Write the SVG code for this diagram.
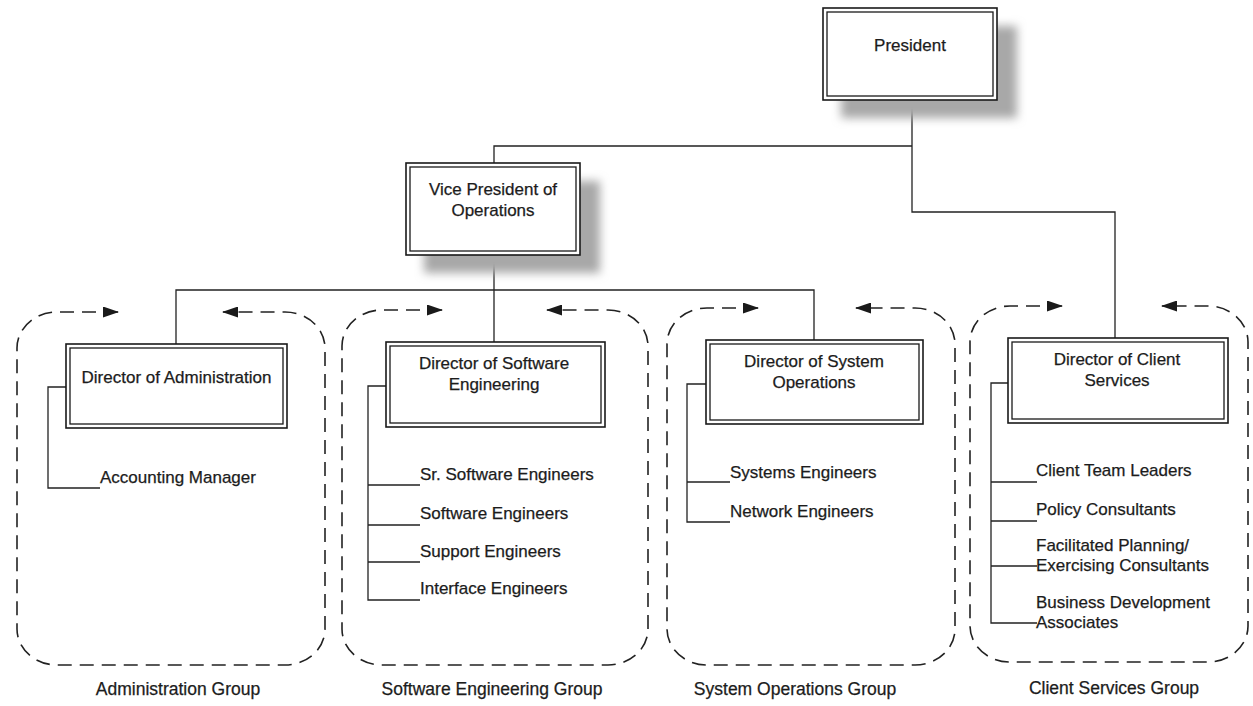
<svg xmlns="http://www.w3.org/2000/svg" width="1253" height="706" viewBox="0 0 1253 706">
<style>
.box-o{fill:#fff;stroke:#1a1a1a;stroke-width:1.6}
.box-i{fill:#fff;stroke:#1a1a1a;stroke-width:1.3}
.shadow{fill:#a8a8a8;filter:url(#blur)}
.t{font-family:"Liberation Sans",Arial,sans-serif;font-size:17px;fill:#1c1c1c;stroke:#1c1c1c;stroke-width:0.25}
.lbl{font-size:17.5px}
.c{text-anchor:middle}
.ln{fill:none;stroke:#222;stroke-width:1.3}
.grp{fill:none;stroke:#222;stroke-width:1.6;stroke-dasharray:14 8;marker-start:url(#arr);marker-end:url(#arr)}
</style>
<defs>
<filter id="blur" x="-20%" y="-30%" width="140%" height="160%"><feGaussianBlur stdDeviation="5"/></filter>
<marker id="arr" viewBox="0 0 16 11" refX="15" refY="5.5" markerWidth="16" markerHeight="11" markerUnits="userSpaceOnUse" orient="auto-start-reverse"><path d="M0,0 L16,5.5 L0,11 z" fill="#1a1a1a"/></marker>
</defs>
<rect width="1253" height="706" fill="#fff"/>

<g id="groups">
<path class="grp" d="M118,312 H57 A40 36 0 0 0 17,348 V629 A40 36 0 0 0 57,665 H285 A40 36 0 0 0 325,629 V348 A40 36 0 0 0 285,312 H223"/>
<path class="grp" d="M442,310 H382 A40 36 0 0 0 342,346 V629 A40 36 0 0 0 382,665 H608 A40 36 0 0 0 648,629 V346 A40 36 0 0 0 608,310 H547"/>
<path class="grp" d="M758,308 H707 A40 36 0 0 0 667,344 V629 A40 36 0 0 0 707,665 H915 A40 36 0 0 0 955,629 V344 A40 36 0 0 0 915,308 H856"/>
<path class="grp" d="M1062,306 H1010 A40 36 0 0 0 970,342 V626 A40 36 0 0 0 1010,662 H1208 A40 36 0 0 0 1248,626 V342 A40 36 0 0 0 1208,306 H1162"/>
<text class="t lbl c" x="178" y="695">Administration Group</text>
<text class="t lbl c" x="492" y="695">Software Engineering Group</text>
<text class="t lbl c" x="795" y="695">System Operations Group</text>
<text class="t lbl c" x="1114" y="694">Client Services Group</text>
</g>

<g id="connectors">
<path class="ln" d="M912,100 V212 H1115 V338"/>
<path class="ln" d="M494,163 V146 H912"/>
<path class="ln" d="M494,255 V342"/>
<path class="ln" d="M176,344 V290 H814 V340"/>
<path class="ln" d="M66,387 H48 V488 H100"/>
<path class="ln" d="M386,386 H368 V600 H420 M368,485 H420 M368,525 H420 M368,562 H420"/>
<path class="ln" d="M706,384 H687 V522 H730 M687,482 H730"/>
<path class="ln" d="M1008,383 H991 V623 H1037 M991,482 H1037 M991,521 H1037 M991,566 H1037"/>
</g>

<g id="president">
<rect class="shadow" x="841" y="26" width="176" height="92"/>
<rect class="box-o" x="823" y="8" width="174" height="92"/>
<rect class="box-i" x="827" y="12" width="166" height="84"/>
<text class="t c" x="910" y="51">President</text>
</g>

<g id="vp">
<rect class="shadow" x="424" y="181" width="176" height="92"/>
<rect class="box-o" x="406" y="163" width="174" height="92"/>
<rect class="box-i" x="410" y="167" width="166" height="84"/>
<text class="t c" x="493" y="195">Vice President of</text>
<text class="t c" x="493" y="216">Operations</text>
</g>

<g id="dir-admin">
<rect class="box-o" x="66" y="344" width="221" height="84"/>
<rect class="box-i" x="70" y="348" width="213" height="76"/>
<text class="t c" x="176.5" y="383">Director of Administration</text>
</g>

<g id="dir-software">
<rect class="box-o" x="386" y="342" width="219" height="85"/>
<rect class="box-i" x="390" y="346" width="211" height="77"/>
<text class="t c" x="494" y="369">Director of Software</text>
<text class="t c" x="494" y="390">Engineering</text>
</g>

<g id="dir-system">
<rect class="box-o" x="706" y="340" width="217" height="84"/>
<rect class="box-i" x="710" y="344" width="209" height="76"/>
<text class="t c" x="814" y="367">Director of System</text>
<text class="t c" x="814" y="388">Operations</text>
</g>

<g id="dir-client">
<rect class="box-o" x="1008" y="338" width="220" height="85"/>
<rect class="box-i" x="1012" y="342" width="212" height="77"/>
<text class="t c" x="1117" y="365">Director of Client</text>
<text class="t c" x="1117" y="386">Services</text>
</g>

<g id="admin-staff">
<text class="t" x="100" y="483">Accounting Manager</text>
</g>

<g id="software-staff">
<text class="t" x="420" y="480">Sr. Software Engineers</text>
<text class="t" x="420" y="519">Software Engineers</text>
<text class="t" x="420" y="557">Support Engineers</text>
<text class="t" x="420" y="594">Interface Engineers</text>
</g>

<g id="system-staff">
<text class="t" x="730" y="478">Systems Engineers</text>
<text class="t" x="730" y="517">Network Engineers</text>
</g>

<g id="client-staff">
<text class="t" x="1036" y="476">Client Team Leaders</text>
<text class="t" x="1036" y="515">Policy Consultants</text>
<text class="t" x="1036" y="551">Facilitated Planning/</text>
<text class="t" x="1036" y="571">Exercising Consultants</text>
<text class="t" x="1036" y="608">Business Development</text>
<text class="t" x="1036" y="628">Associates</text>
</g>
</svg>
